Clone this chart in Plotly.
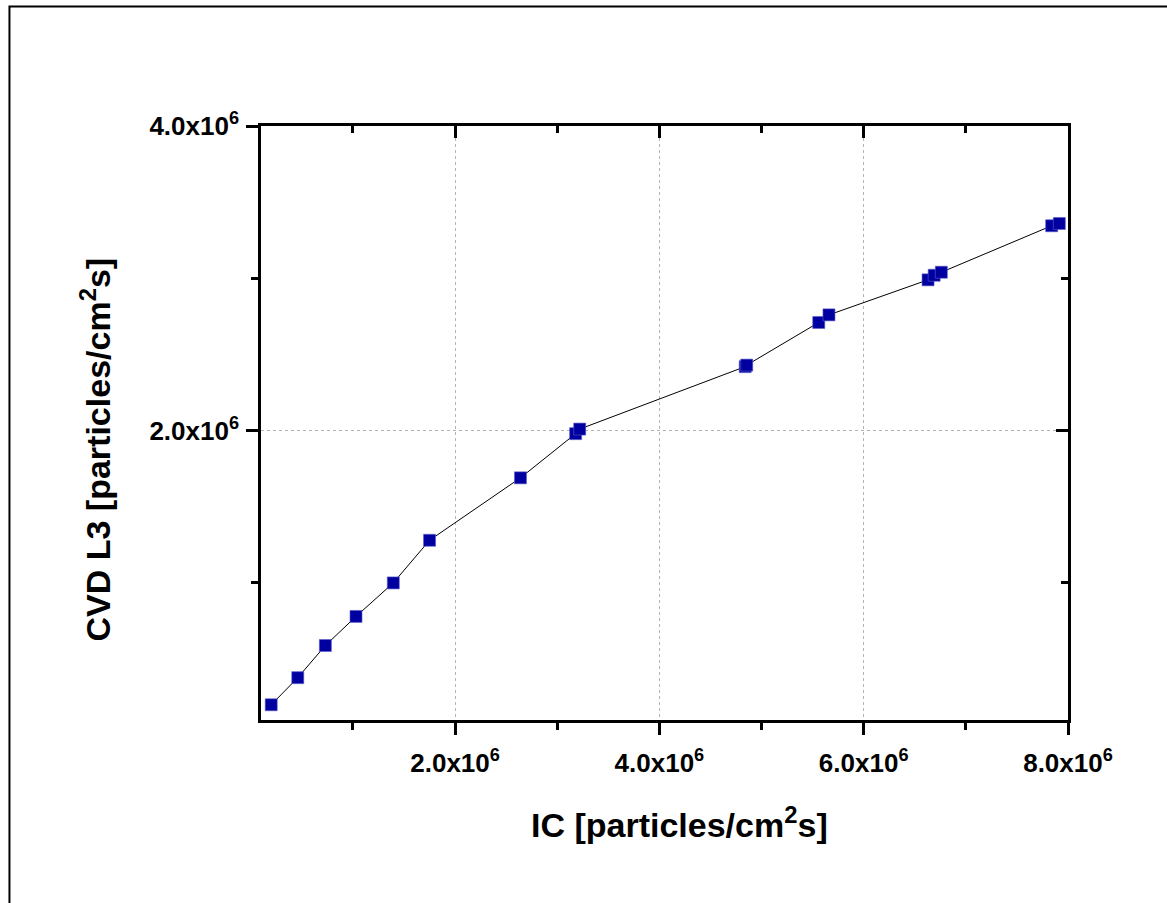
import plotly.graph_objects as go

ic = [0.20e6, 0.46e6, 0.73e6, 1.03e6, 1.395e6, 1.75e6, 2.64e6, 3.18e6, 3.22e6,
      4.84e6, 4.855e6, 5.56e6, 5.66e6, 6.63e6, 6.69e6, 6.76e6, 7.84e6, 7.915e6]
cvd = [0.20e6, 0.378e6, 0.589e6, 0.78e6, 1.0e6, 1.28e6, 1.69e6, 1.98e6, 2.01e6,
       2.42e6, 2.43e6, 2.71e6, 2.76e6, 2.99e6, 3.02e6, 3.04e6, 3.345e6, 3.36e6]

x_major = [2e6, 4e6, 6e6, 8e6]
x_labels = ["2.0x10<sup>6</sup>", "4.0x10<sup>6</sup>", "6.0x10<sup>6</sup>", "8.0x10<sup>6</sup>"]
x_minor = [1e6, 3e6, 5e6, 7e6]
y_major = [2e6, 4e6]
y_labels = ["2.0x10<sup>6</sup>", "4.0x10<sup>6</sup>"]
y_minor = [1e6, 3e6]

XR = [0.1e6, 8e6]
YR = [0.1e6, 4e6]

FONT = "Liberation Sans"
tickfont = dict(family=FONT, size=26, color="black", weight="bold")

fig = go.Figure()
fig.add_trace(go.Scatter(
    x=ic, y=cvd, mode="lines+markers",
    line=dict(color="black", width=1),
    marker=dict(symbol="square", size=12, color="#0000A0",
                line=dict(width=0.6, color="#5a5acd")),
    showlegend=False, hoverinfo="skip"))
# invisible trace on mirrored axes so they render
fig.add_trace(go.Scatter(x=[XR[0]], y=[YR[0]], xaxis="x2", yaxis="y2",
                         mode="markers", marker=dict(opacity=0),
                         showlegend=False, hoverinfo="skip"))

common = dict(showline=True, linecolor="black", linewidth=2.5, zeroline=False,
              tickcolor="black", tickwidth=2.5)

fig.update_layout(
    width=1167, height=903,
    margin=dict(l=261, r=99, t=126, b=183),
    paper_bgcolor="white", plot_bgcolor="white",
    xaxis=dict(range=XR, tickmode="array", tickvals=x_major, ticktext=x_labels,
               ticks="outside", ticklen=12, tickfont=tickfont,
               showgrid=True, gridcolor="#b4b4b4", griddash="dot", gridwidth=1,
               minor=dict(tickmode="array", tickvals=x_minor, ticks="outside",
                          ticklen=7, tickwidth=2.5, tickcolor="black", showgrid=False),
               ticklabelstandoff=6,
               **common),
    yaxis=dict(range=YR, tickmode="array", tickvals=y_major, ticktext=y_labels,
               ticks="outside", ticklen=12, tickfont=tickfont,
               showgrid=True, gridcolor="#b4b4b4", griddash="dot", gridwidth=1,
               minor=dict(tickmode="array", tickvals=y_minor, ticks="outside",
                          ticklen=7, tickwidth=2.5, tickcolor="black", showgrid=False),
               ticklabelstandoff=2,
               **common),
    xaxis2=dict(range=XR, overlaying="x", side="top", anchor="y2",
                tickmode="array", tickvals=x_major, ticks="inside", ticklen=12,
                showticklabels=False, showgrid=False,
                minor=dict(tickmode="array", tickvals=x_minor, ticks="inside",
                           ticklen=7, tickwidth=2.5, tickcolor="black", showgrid=False),
                **common),
    yaxis2=dict(range=YR, overlaying="y", side="right", anchor="x2",
                tickmode="array", tickvals=y_major, ticks="inside", ticklen=12,
                showticklabels=False, showgrid=False,
                minor=dict(tickmode="array", tickvals=y_minor, ticks="inside",
                           ticklen=7, tickwidth=2.5, tickcolor="black", showgrid=False),
                **common),
)

fig.add_annotation(text="IC [particles/cm<sup>2</sup>s]", xref="paper", yref="paper",
                   x=0.5186, y=-0.1734, xanchor="center", yanchor="middle",
                   showarrow=False,
                   font=dict(family=FONT, size=34, color="black", weight="bold"))
fig.add_annotation(text="CVD L3 [particles/cm<sup>2</sup>s]", xref="paper", yref="paper",
                   x=-0.2057, y=0.4554, xanchor="center", yanchor="middle",
                   textangle=-90, showarrow=False,
                   font=dict(family=FONT, size=34, color="black", weight="bold"))

fig.add_shape(type="rect", xref="paper", yref="paper",
              x0=-0.3117, x1=1.3, y0=-0.4, y1=1.2012,
              line=dict(color="black", width=2), layer="below")

fig.write_html("out.html")
